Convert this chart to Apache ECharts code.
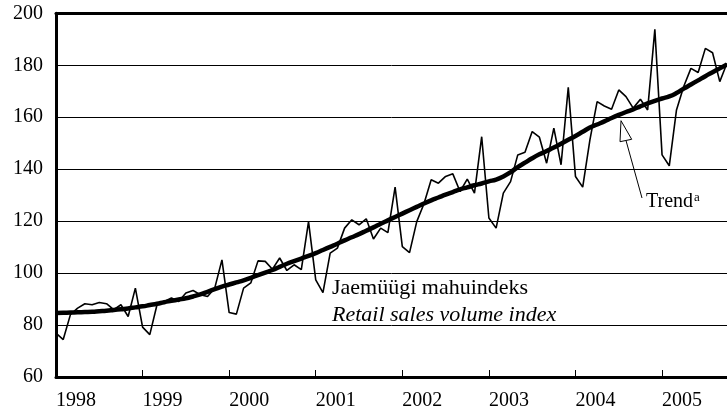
<!DOCTYPE html>
<html>
<head>
<meta charset="utf-8">
<script src="https://cdn.jsdelivr.net/npm/echarts@6/dist/echarts.min.js"></script>
<style>
  html, body { margin: 0; padding: 0; background: #fff; }
  #chart { width: 727px; height: 411px; }
</style>
</head>
<body>
<div id="chart"></div>
<script>
// years on the axis, monthly data Jan 1998 .. Oct 2005
const years = ["1998", "1999", "2000", "2001", "2002", "2003", "2004", "2005"];
const monthsInLastYear = 10;

// retail sales volume index (monthly)
const retail = [
  76.9, 74.4, 84.0, 86.5, 88.2, 87.8, 88.7, 88.2, 85.9, 87.8, 83.3, 94.2,
  79.2, 76.3, 87.8, 89.1, 90.4, 89.1, 92.3, 93.3, 91.7, 91.0, 94.2, 105.1,
  84.8, 84.2, 94.2, 96.2, 104.7, 104.5, 101.5, 105.8, 101.0, 103.2, 101.3, 119.8,
  97.4, 92.5, 107.7, 109.6, 117.3, 120.5, 118.6, 120.9, 113.1, 117.3, 115.6, 133.1,
  110.2, 107.9, 119.8, 126.7, 135.9, 134.6, 137.2, 138.2, 131.4, 136.2, 130.8, 152.5,
  121.2, 117.3, 130.8, 135.2, 145.5, 146.5, 154.5, 152.3, 142.3, 155.8, 141.7, 171.5,
  137.2, 133.1, 151.3, 166.0, 164.3, 163.1, 170.5, 167.9, 163.5, 166.9, 162.8, 193.8,
  145.5, 141.3, 162.8, 171.8, 178.8, 177.2, 186.5, 184.8, 173.7, 180.8
];

// trend (monthly)
const trend = [
  84.6, 84.7, 84.8, 84.9, 85.0, 85.1, 85.3, 85.5, 85.8, 86.1, 86.4, 86.8,
  87.2, 87.7, 88.2, 88.8, 89.3, 89.8, 90.3, 91.0, 91.8, 92.8, 93.8, 94.8,
  95.6, 96.4, 97.2, 98.2, 99.2, 100.2, 101.2, 102.4, 103.6, 104.6, 105.6, 106.6,
  107.7, 108.9, 110.1, 111.3, 112.6, 113.8, 115.0, 116.3, 117.6, 119.0, 120.3, 121.6,
  122.9, 124.2, 125.5, 126.8, 128.0, 129.1, 130.2, 131.2, 132.2, 133.0, 133.8, 134.5,
  135.3, 136.0, 137.2, 138.8, 140.8, 142.5, 144.2, 145.7, 147.0, 148.3, 149.8, 151.3,
  152.8, 154.4, 156.0, 157.2, 158.4, 159.7, 160.9, 162.0, 163.0, 164.2, 165.3, 166.3,
  167.2, 168.0, 169.3, 171.0, 172.6, 174.2, 175.8, 177.3, 178.8, 180.3
];

const yTicks = { min: 60, max: 200, step: 20 };

// month categories like "1998-01"
const months = [];
years.forEach((y, yi) => {
  const n = yi === years.length - 1 ? monthsInLastYear : 12;
  for (let m = 1; m <= n; m++) months.push(y + "-" + String(m).padStart(2, "0"));
});

const FONT = "'Liberation Serif', 'Times New Roman', serif";

const chart = echarts.init(document.getElementById("chart"), null, { renderer: "canvas" });

const option = {
  animation: false,
  backgroundColor: "#fff",
  grid: { left: 56, right: 0, top: 13.3, bottom: 33.7, containLabel: false },
  xAxis: [
    {
      type: "category",
      data: months,
      boundaryGap: false,
      axisLine: { show: true, lineStyle: { color: "#000", width: 3 } },
      axisTick: {
        show: true,
        inside: true,
        length: 7,
        interval: (i) => i % 12 === 0,
        lineStyle: { color: "#000", width: 1 },
      },
      axisLabel: {
        interval: (i) => i % 12 === 0,
        formatter: (v) => v.slice(0, 4),
        align: "left",
        margin: 14,
        color: "#000",
        fontSize: 20,
        fontFamily: FONT,
      },
      splitLine: { show: false },
    },
    {
      type: "category",
      data: months,
      position: "top",
      boundaryGap: false,
      axisLine: { show: true, lineStyle: { color: "#000", width: 3 } },
      axisTick: { show: false },
      axisLabel: { show: false },
      splitLine: { show: false },
    },
  ],
  yAxis: {
    type: "value",
    min: yTicks.min,
    max: yTicks.max,
    interval: yTicks.step,
    axisLine: { show: true, lineStyle: { color: "#000", width: 3 } },
    axisTick: { show: false },
    axisLabel: { color: "#000", fontSize: 20, fontFamily: FONT, margin: 13 },
    splitLine: { show: true, lineStyle: { color: "#000", width: 1 } },
  },
  series: [
    {
      name: "Jaemüügi mahuindeks",
      type: "line",
      data: retail,
      symbol: "none",
      lineStyle: { color: "#000", width: 1.6 },
      z: 3,
    },
    {
      name: "Trend",
      type: "line",
      data: trend,
      symbol: "none",
      smooth: true,
      lineStyle: { color: "#000", width: 4.5 },
      z: 4,
    },
  ],
  graphic: [
    {
      type: "text",
      left: 332,
      top: 277,
      style: { text: "Jaemüügi mahuindeks", font: "22px " + FONT, fill: "#000" },
    },
    {
      type: "text",
      left: 332,
      top: 304,
      style: { text: "Retail sales volume index", font: "italic 22px " + FONT, fill: "#000" },
    },
    {
      type: "text",
      left: 646,
      top: 191,
      style: {
        text: "{t|Trend}{s|a}",
        rich: {
          t: { fontSize: 20, fontFamily: FONT, fill: "#000" },
          s: { fontSize: 13, fontFamily: FONT, fill: "#000", padding: [0, 0, 9, 1] },
        },
      },
    },
    {
      type: "line",
      shape: { x1: 642, y1: 198, x2: 626, y2: 140.5 },
      style: { stroke: "#000", lineWidth: 1 },
    },
    {
      type: "polygon",
      shape: { points: [[621, 120.7], [620, 141.7], [631.7, 139.3]] },
      style: { fill: "#fff", stroke: "#000", lineWidth: 1 },
      z: 10,
    },
  ],
};

chart.setOption(option);
</script>
</body>
</html>
